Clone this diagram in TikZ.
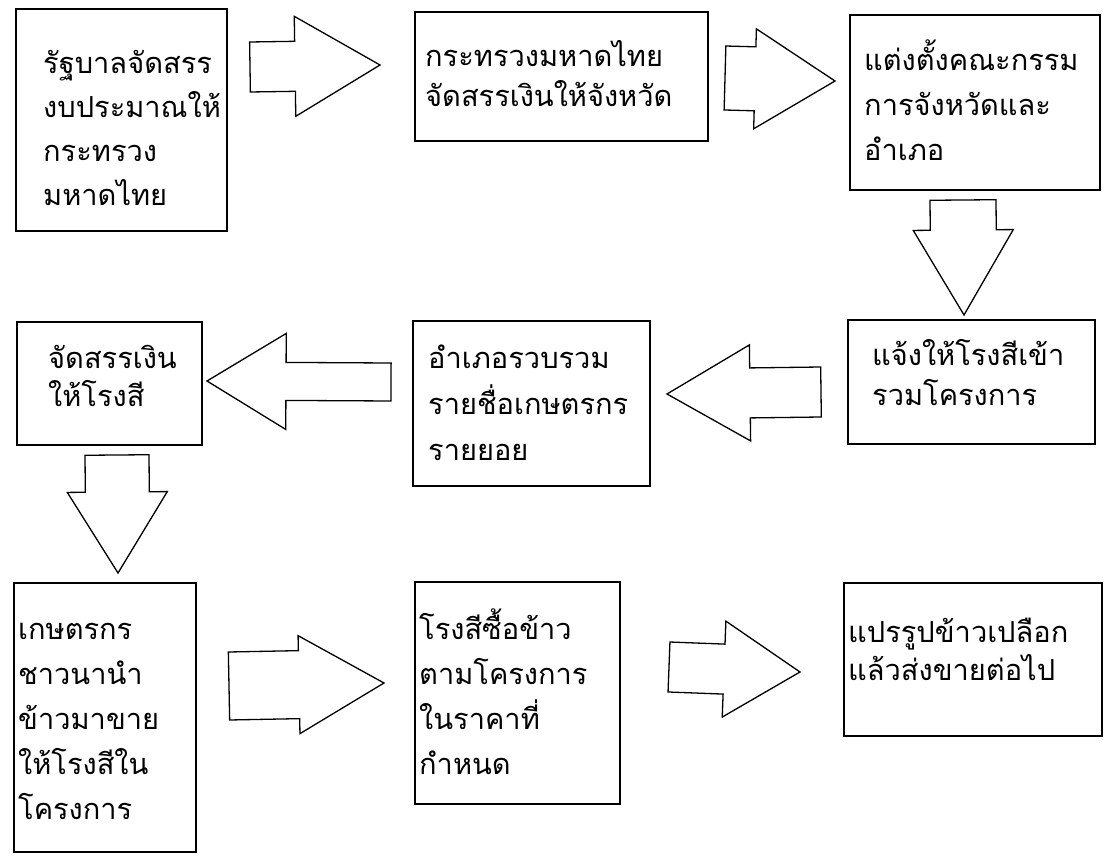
\documentclass[tikz,border=0pt]{standalone}
\usepackage{fontspec}
\newfontfamily\thaifont[Script=Thai]{Loma}
\usetikzlibrary{calc}

\tikzset{
  box/.style={draw=black, line width=1.5pt, rectangle, anchor=north west, inner sep=0pt, outer sep=0pt},
  lbl/.style={anchor=base west, inner sep=0pt, text width=280pt, align=left,
    font=\thaifont\fontsize{29}{#1}\selectfont},
  lbl/.default=44,
  blk/.style={draw=black, line width=1.3pt, line join=miter, fill=white}
}

% block arrow: tail, tip, shaft half width, head half width, head length
\newcommand{\blockarrow}[5]{%
  \path ($(#2)!#5!(#1)$) coordinate (hb);
  \draw[blk] ($(#1)!#3!90:(#2)$) -- ($(hb)!#3!90:(#2)$) -- ($(hb)!#4!90:(#2)$) -- (#2)
    -- ($(hb)!#4!-90:(#2)$) -- ($(hb)!#3!-90:(#2)$) -- ($(#1)!#3!-90:(#2)$) -- cycle;
}

\begin{document}
\begin{tikzpicture}[x=1pt, y=-1pt]
\useasboundingbox (0,0) rectangle (1104,858);

% boxes
\node[box, minimum width=211pt, minimum height=222pt] (b1) at (16,9) {};
\node[box, minimum width=293pt, minimum height=129pt] (b2) at (415,12) {};
\node[box, minimum width=250pt, minimum height=175pt] (b3) at (850,15) {};
\node[box, minimum width=247pt, minimum height=124pt] (b4) at (848,320) {};
\node[box, minimum width=237pt, minimum height=165pt] (b5) at (413,321) {};
\node[box, minimum width=185pt, minimum height=123pt] (b6) at (17,322) {};
\node[box, minimum width=182pt, minimum height=269pt] (b7) at (14,583) {};
\node[box, minimum width=205pt, minimum height=222pt] (b8) at (415,582) {};
\node[box, minimum width=258pt, minimum height=153pt] (b9) at (844,583) {};

% texts
\node[lbl] (t1) at (43,74) {รัฐบาลจัดสรร\\งบประมาณให้\\กระทรวง\\มหาดไทย};
\node[lbl=40] (t2) at (425,67) {กระทรวงมหาดไทย\\จัดสรรเงินให้จังหวัด};
\node[lbl=45] (t3) at (864,71) {แต่งตั้งคณะกรรม\\การจังหวัดและ\\อำเภอ};
\node[lbl=40] (t4) at (872,366) {แจ้งให้โรงสีเข้า\\รวมโครงการ};
\node[lbl=46] (t5) at (428,369) {อำเภอรวบรวม\\รายชื่อเกษตรกร\\รายยอย};
\node[lbl=38] (t6) at (48,369) {จัดสรรเงิน\\ให้โรงสี};
\node[lbl=45] (t7) at (18,639) {เกษตรกร\\ชาวนานำ\\ข้าวมาขาย\\ให้โรงสีใน\\โครงการ};
\node[lbl=45] (t8) at (419,639) {โรงสีซื้อข้าว\\ตามโครงการ\\ในราคาที่\\กำหนด};
\node[lbl=38] (t9) at (848,642) {แปรรูปข้าวเปลือก\\แล้วส่งขายต่อไป};

% arrow ends
\coordinate (a1t) at (250,67);  \coordinate (a1h) at (380,65);
\coordinate (a2t) at (725,78);  \coordinate (a2h) at (835,81);
\coordinate (a3t) at (963,200); \coordinate (a3h) at (964,315);
\coordinate (a4t) at (391,382); \coordinate (a4h) at (207,381);
\coordinate (a5t) at (821,392); \coordinate (a5h) at (667,394);
\coordinate (a6t) at (117,455); \coordinate (a6h) at (118,573);
\coordinate (a7t) at (229,686); \coordinate (a7h) at (384,683);
\coordinate (a8t) at (669,667); \coordinate (a8h) at (800,672);

\blockarrow{a1t}{a1h}{25pt}{50pt}{85pt}
\blockarrow{a2t}{a2h}{32pt}{50pt}{80pt}
\blockarrow{a3t}{a3h}{33pt}{50pt}{85pt}
\blockarrow{a4t}{a4h}{19pt}{48pt}{79pt}
\blockarrow{a5t}{a5h}{25pt}{48pt}{83pt}
\blockarrow{a6t}{a6h}{32pt}{50pt}{81pt}
\blockarrow{a7t}{a7h}{34pt}{49pt}{85pt}
\blockarrow{a8t}{a8h}{25pt}{48pt}{76pt}
\end{tikzpicture}
\end{document}
